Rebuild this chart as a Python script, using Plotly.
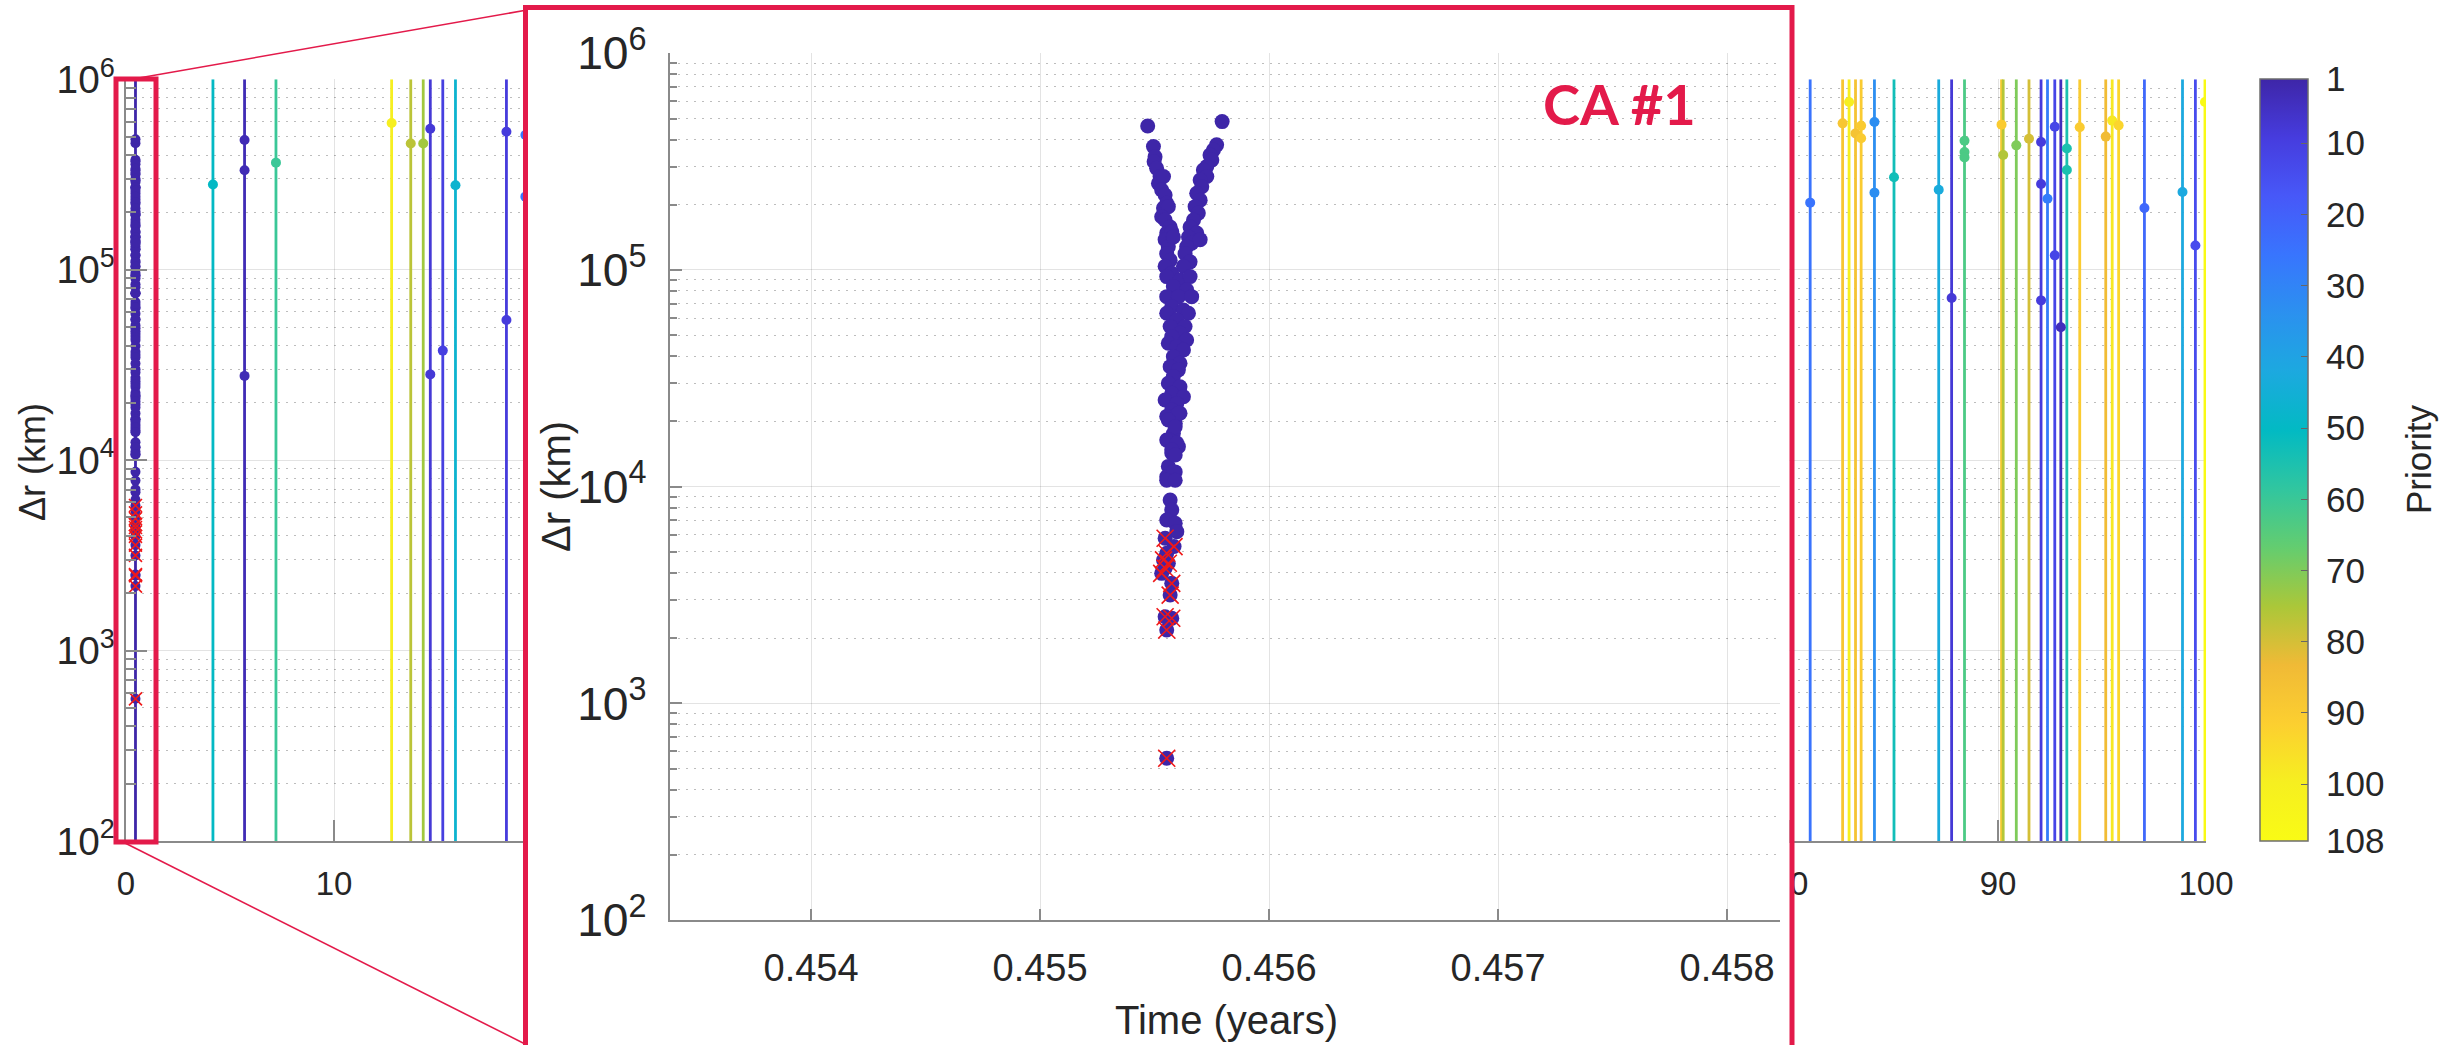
import plotly.graph_objects as go
from plotly.colors import sample_colorscale

# ------------------------------------------------------------------ data
PRIORITY_MIN, PRIORITY_MAX = 1, 108
DR_RANGE_KM = [1e2, 1e6]
TIME_RANGE_YEARS = [0, 100]
INSET_TIME_RANGE = [0.453384, 0.458231]
time_ticks = [0, 10, 20, 30, 40, 50, 60, 70, 80, 90, 100]
inset_time_ticks = [0.454, 0.455, 0.456, 0.457, 0.458]
priority_ticks = [1, 10, 20, 30, 40, 50, 60, 70, 80, 90, 100, 108]

# close-approach window of CA #1 (shaded in the inset)
ca1_window = [0.453508, 0.457968]
ca1_priority = 1

# every Δr sample of CA #1
ca1_time = [
    0.455470, 0.455795,
    0.455495, 0.455502, 0.455498, 0.455509, 0.455524, 0.455517, 0.455539, 0.455531,
    0.455546, 0.455553, 0.455539, 0.455560, 0.455531, 0.455546, 0.455568, 0.455553,
    0.455575, 0.455546, 0.455560, 0.455582, 0.455553, 0.455568, 0.455546, 0.455575,
    0.455771, 0.455757, 0.455742, 0.455750, 0.455728, 0.455713, 0.455728, 0.455699,
    0.455706, 0.455684, 0.455699, 0.455677, 0.455691, 0.455670, 0.455655, 0.455684,
    0.455648, 0.455662, 0.455640, 0.455699, 0.455633, 0.455655, 0.455626,
    0.455553, 0.455611, 0.455655, 0.455582, 0.455640, 0.455553, 0.455604, 0.455662,
    0.455575, 0.455626, 0.455553, 0.455648, 0.455597, 0.455568, 0.455633, 0.455611,
    0.455575, 0.455640, 0.455560, 0.455597, 0.455626, 0.455582, 0.455611, 0.455568,
    0.455604, 0.455582, 0.455560, 0.455611, 0.455575, 0.455626, 0.455546, 0.455597,
    0.455575, 0.455611, 0.455553, 0.455590, 0.455582, 0.455568, 0.455604, 0.455575,
    0.455560, 0.455590, 0.455553,
    0.455604, 0.455560, 0.455590, 0.455553, 0.455597, 0.455575, 0.455590, 0.455582,
    0.455553, 0.455590, 0.455568, 0.455575, 0.455553, 0.455590, 0.455597,
    0.455546, 0.455585, 0.455553, 0.455539, 0.455560, 0.455546, 0.455531, 0.455575,
    0.455568, 0.455546, 0.455575, 0.455553, 0.455553,
]
ca1_dr = [
    4.62e5, 4.84e5,
    3.71e5, 3.33e5, 3.16e5, 2.95e5, 2.70e5, 2.51e5, 2.70e5, 2.34e5,
    2.22e5, 2.03e5, 1.93e5, 1.96e5, 1.76e5, 1.70e5, 1.58e5, 1.48e5,
    1.50e5, 1.38e5, 1.28e5, 1.42e5, 1.19e5, 1.11e5, 1.04e5, 9.65e4,
    3.78e5, 3.58e5, 3.39e5, 3.22e5, 3.00e5, 2.89e5, 2.70e5, 2.60e5,
    2.42e5, 2.26e5, 2.10e5, 1.96e5, 1.83e5, 1.70e5, 1.58e5, 1.48e5,
    1.42e5, 1.33e5, 1.28e5, 1.38e5, 1.19e5, 1.09e5, 1.04e5,
    9.32e4, 8.99e4, 9.32e4, 8.38e4, 8.09e4, 7.53e4, 7.53e4, 7.53e4,
    6.77e4, 6.54e4, 6.31e4, 6.31e4, 5.88e4, 5.48e4, 5.48e4, 5.10e4,
    4.93e4, 4.75e4, 4.59e4, 4.43e4, 4.27e4, 3.98e4, 3.71e4, 3.58e4,
    3.46e4, 3.22e4, 3.00e4, 2.89e4, 2.70e4, 2.60e4, 2.51e4, 2.42e4,
    2.26e4, 2.18e4, 2.11e4, 1.96e4, 1.76e4, 1.64e4, 1.53e4, 1.43e4,
    1.24e4, 1.17e4, 1.11e4,
    2.18e4, 2.03e4, 1.89e4, 1.64e4, 1.59e4, 1.48e4, 1.40e4, 1.17e4,
    1.07e4, 1.07e4, 8.68e3, 7.81e3, 7.02e3, 6.78e3, 6.20e3,
    5.78e3, 5.29e3, 4.93e3, 4.59e3, 4.43e3, 4.20e3, 3.98e3, 3.58e3,
    3.16e3, 2.51e3, 2.47e3, 2.18e3, 558,
]
# samples of CA #1 flagged with a red cross
ca1_flag_time = [0.455546, 0.455585, 0.455553, 0.455539, 0.455560, 0.455546, 0.455531,
                 0.455575, 0.455568, 0.455546, 0.455575, 0.455553, 0.455553]
ca1_flag_dr = [5.78e3, 5.29e3, 4.93e3, 4.59e3, 4.43e3, 4.20e3, 3.98e3,
               3.58e3, 3.16e3, 2.51e3, 2.47e3, 2.18e3, 558]

# close-approach events (vertical lines), coloured by priority
event_time = [0.4556, 4.18, 5.70, 7.21, 12.77, 13.69, 14.29, 14.63, 15.23, 15.84, 18.29, 19.20,
              80.97, 82.53, 82.84, 83.15, 83.42, 84.06, 85.00, 87.15, 87.77, 88.39, 90.17,
              90.25, 90.88, 91.49, 92.07, 92.38, 92.73, 93.02, 93.31, 93.93, 95.18, 95.49,
              95.80, 97.04, 98.87, 99.49, 99.95]
event_priority = [1, 50, 3, 60, 100, 77, 74, 8, 10, 47, 9, 25,
                  25, 88, 100, 87, 90, 33, 53, 43, 8, 63, 90,
                  76, 70, 80, 9, 28, 12, 4, 55, 90, 84, 98,
                  93, 22, 42, 14, 107]

# Δr samples of the other events
point_time = [4.18, 5.70, 5.70, 5.70, 7.21, 12.77, 13.69, 14.29, 14.63, 14.63, 15.23, 15.84,
              18.29, 18.29, 19.20, 19.20,
              80.97, 82.53, 82.84, 83.15, 83.42, 83.42, 84.06, 84.06, 85.00, 87.15, 87.77,
              88.39, 88.39, 88.39, 90.17, 90.25, 90.88, 91.49, 92.07, 92.07, 92.07, 92.38,
              92.73, 92.73, 93.02, 93.31, 93.31, 93.93, 95.18, 95.49, 95.80, 97.04, 98.87,
              99.49, 99.95]
point_dr = [2.80e5, 4.80e5, 3.33e5, 2.77e4, 3.65e5, 5.90e5, 4.60e5, 4.60e5, 5.50e5, 2.82e4,
            3.76e4, 2.78e5, 5.30e5, 5.45e4, 5.10e5, 2.42e5,
            2.25e5, 5.87e5, 7.60e5, 5.20e5, 5.70e5, 4.90e5, 5.97e5, 2.54e5, 3.06e5, 2.63e5,
            7.10e4, 4.76e5, 4.15e5, 3.89e5, 5.78e5, 4.00e5, 4.50e5, 4.87e5, 4.69e5, 2.82e5,
            6.90e4, 2.36e5, 5.63e5, 1.19e5, 4.99e4, 4.33e5, 3.34e5, 5.60e5, 5.00e5, 6.07e5,
            5.73e5, 2.11e5, 2.56e5, 1.34e5, 7.60e5]
point_priority = [50, 3, 3, 3, 60, 100, 77, 74, 8, 8, 10, 47, 9, 9, 25, 25,
                  25, 88, 100, 87, 90, 90, 33, 33, 53, 43, 8, 63, 63, 63, 90, 76, 70, 80,
                  9, 9, 9, 28, 12, 12, 4, 55, 55, 90, 84, 98, 93, 22, 42, 14, 107]

# MATLAB "parula" colour map (sampled)
parula = ["#3E26A8", "#463CDE", "#4758F8", "#3875FE", "#2B91EF", "#1CA9DF", "#02BAC3",
          "#31C69F", "#64CD6F", "#ABC739", "#F0BA36", "#FCCF30", "#F6EF20", "#F9FB15"]

# ------------------------------------------------------------------ styling
W, H = 2453, 1045
FONT = "Liberation Sans, Arial, sans-serif"
TXT = "#262626"
AX = "#8a8a8a"
GRID = "rgba(38,38,38,0.13)"
MGRID = "rgba(38,38,38,0.30)"
CRIMSON = "#E31A4A"

parula_scale = [[i / (len(parula) - 1), c] for i, c in enumerate(parula)]
# colour bar runs from priority 1 (top) to 108 (bottom): colour by -priority
cbar_scale = [[1 - s, c] for s, c in reversed(parula_scale)]


def prio_color(p):
    return sample_colorscale(parula_scale, (p - PRIORITY_MIN) / (PRIORITY_MAX - PRIORITY_MIN))[0]


def px_x(p):
    return p / W


def px_y(p):
    return 1 - p / H


fig = go.Figure()

# event lines on the main axes
for t, p in zip(event_time, event_priority):
    fig.add_trace(go.Scatter(x=[t, t], y=DR_RANGE_KM, mode="lines",
                             line=dict(color=prio_color(p), width=2.8),
                             hoverinfo="skip", showlegend=False, xaxis="x", yaxis="y"))

# sample points (main)
fig.add_trace(go.Scatter(
    x=point_time + ca1_time, y=point_dr + ca1_dr, mode="markers",
    marker=dict(size=10, color=[-p for p in point_priority] + [-ca1_priority] * len(ca1_time),
                coloraxis="coloraxis", line=dict(width=0)),
    showlegend=False, xaxis="x", yaxis="y"))
fig.add_trace(go.Scatter(
    x=ca1_flag_time, y=ca1_flag_dr, mode="markers",
    marker=dict(symbol="x-thin", size=13, line=dict(color="#F01818", width=1.6)),
    showlegend=False, xaxis="x", yaxis="y"))

# empty "cover" subplot that blanks the main axes behind the inset
fig.add_trace(go.Scatter(x=[None], y=[None], showlegend=False, xaxis="x2", yaxis="y2"))

# inset
fig.add_trace(go.Scatter(
    x=ca1_time, y=ca1_dr, mode="markers",
    marker=dict(size=15, color=[-ca1_priority] * len(ca1_time), coloraxis="coloraxis",
                line=dict(width=0)),
    showlegend=False, xaxis="x3", yaxis="y3"))
fig.add_trace(go.Scatter(
    x=ca1_flag_time, y=ca1_flag_dr, mode="markers",
    marker=dict(symbol="x-thin", size=17, line=dict(color="#F01818", width=1.6)),
    showlegend=False, xaxis="x3", yaxis="y3"))

log_minor = dict(dtick="D1", ticks="inside", ticklen=10, tickcolor=AX,
                 showgrid=True, gridcolor=MGRID, griddash="2px,6px", gridwidth=1)

fig.update_layout(
    width=W, height=H, margin=dict(l=0, r=0, t=0, b=0, pad=0, autoexpand=False),
    paper_bgcolor="white", plot_bgcolor="white",
    font=dict(family=FONT, color=TXT, size=34),
    xaxis=dict(domain=[px_x(126), px_x(2206)], range=TIME_RANGE_YEARS, tickvals=time_ticks,
               ticks="inside", ticklen=21, tickcolor=AX, tickwidth=1.5, automargin=False,
               showline=True, linecolor=AX, linewidth=2, showgrid=True, gridcolor=GRID,
               zeroline=False, tickfont=dict(size=33), ticklabelstandoff=12, anchor="y"),
    yaxis=dict(domain=[px_y(841), px_y(79.3)], type="log", range=[2, 6], dtick=1,
               exponentformat="power", ticks="inside", ticklen=21, tickcolor=AX, tickwidth=1.5,
               showline=True, linecolor=AX, linewidth=2, showgrid=True, gridcolor=GRID,
               zeroline=False, tickfont=dict(size=31), ticklabelstandoff=3, minor=log_minor,
               anchor="x", automargin=False),
    xaxis2=dict(domain=[px_x(528), px_x(1789.5)], visible=False, range=[0, 1], anchor="y2",
                showgrid=False, zeroline=False, automargin=False),
    yaxis2=dict(domain=[0, px_y(10)], visible=False, range=[0, 1], anchor="x2",
                showgrid=False, zeroline=False, automargin=False),
    xaxis3=dict(domain=[px_x(670), px_x(1780)], range=INSET_TIME_RANGE, tickvals=inset_time_ticks,
                tickformat=".3f", ticks="inside", ticklen=11, tickcolor=AX, tickwidth=1.5,
                showline=True, linecolor=AX, linewidth=2, showgrid=True, gridcolor=GRID,
                zeroline=False, tickfont=dict(size=38), ticklabelstandoff=13, anchor="y3",
                automargin=False),
    yaxis3=dict(domain=[px_y(920), px_y(53.3)], type="log", range=[2, 6], dtick=1,
                exponentformat="power", ticks="inside", ticklen=12, tickcolor=AX, tickwidth=1.5,
                showline=True, linecolor=AX, linewidth=2, showgrid=True, gridcolor=GRID,
                zeroline=False, tickfont=dict(size=37), ticklabelstandoff=14,
                minor=dict(log_minor, ticklen=7), anchor="x3", automargin=False),
    coloraxis=dict(
        colorscale=cbar_scale, cmin=-PRIORITY_MAX, cmax=-PRIORITY_MIN,
        colorbar=dict(x=px_x(2260), xanchor="left", xpad=0, ypad=0,
                      y=1 - (79.3 + 841) / 2 / H, yanchor="middle",
                      len=(841 - 79.3) / H, lenmode="fraction",
                      thickness=48, thicknessmode="pixels",
                      outlinewidth=1.5, outlinecolor="#6e6e6e",
                      tickvals=[-v for v in priority_ticks],
                      ticktext=["\u00a0" + str(v) for v in priority_ticks],
                      ticks="inside", ticklen=7, tickcolor="#666666",
                      tickfont=dict(size=35, color=TXT, family=FONT)),
    ),
    showlegend=False,
)

# shaded CA #1 window in the inset
fig.add_shape(type="rect", xref="x3", yref="y3 domain", x0=ca1_window[0], x1=ca1_window[1],
              y0=0, y1=1, layer="below",
              fillcolor="rgba(62,38,168,0.15)", line=dict(color="#3F2DB0", width=3))

# zoom frame, small box and connectors
fig.add_shape(type="rect", xref="paper", yref="paper", x0=px_x(525.5), x1=px_x(1792),
              y0=px_y(7.5), y1=-0.02, layer="above", line=dict(color=CRIMSON, width=5))
fig.add_shape(type="rect", xref="paper", yref="paper", x0=px_x(116), x1=px_x(156),
              y0=px_y(79), y1=px_y(842), layer="above", line=dict(color=CRIMSON, width=5))
fig.add_shape(type="line", xref="paper", yref="paper", x0=px_x(133), y0=px_y(79),
              x1=px_x(527), y1=px_y(10), layer="above", line=dict(color=CRIMSON, width=1.6))
fig.add_shape(type="line", xref="paper", yref="paper", x0=px_x(123), y0=px_y(842),
              x1=px_x(527), y1=px_y(1045), layer="above", line=dict(color=CRIMSON, width=1.6))

# titles
def label(text, x, y, size, angle=0, color=TXT, family=FONT):
    fig.add_annotation(text=text, x=px_x(x), y=px_y(y), xref="paper", yref="paper",
                       xanchor="center", yanchor="middle", textangle=angle, showarrow=False,
                       font=dict(size=size, color=color, family=family))


label("Δr (km)", 32, 462, 36, -90)
label("Δr (km)", 556, 487, 40, -90)
label("Time (years)", 1226, 1020, 40)
label("Priority", 2418, 460, 35, -90)
label("<b>CA #1</b>", 1619, 104, 56, color=CRIMSON, family="Lato, Open Sans, sans-serif")

fig.write_html("out.html")
